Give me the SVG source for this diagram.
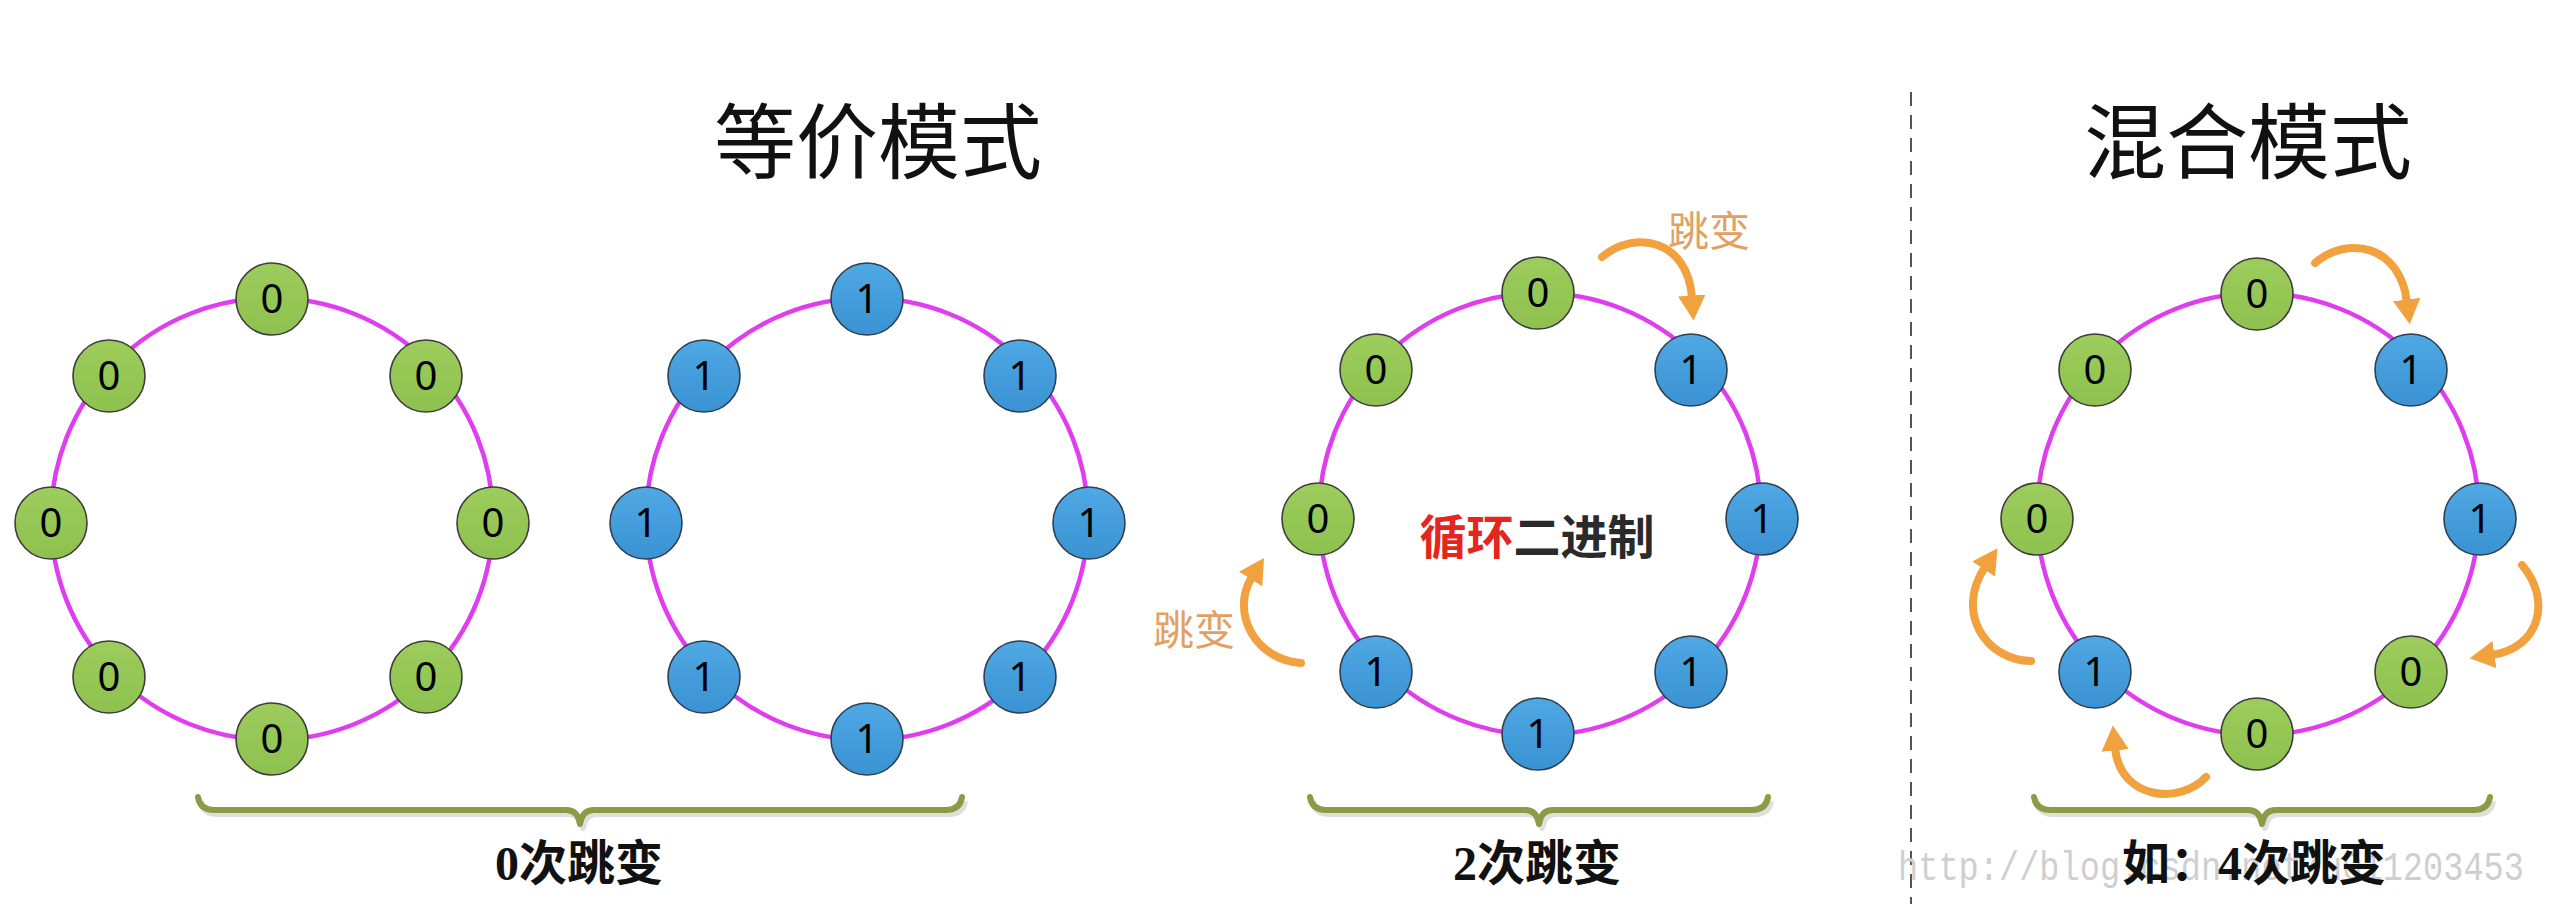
<svg xmlns="http://www.w3.org/2000/svg" width="2550" height="904" viewBox="0 0 2550 904">
<style>
.ring{fill:none;stroke:#e03cf0;stroke-width:4.5}
.g{fill:url(#gg);stroke:#3c3c3c;stroke-width:1.6}
.b{fill:url(#bg);stroke:#2f3f4f;stroke-width:1.6}
.num{font-family:"Noto Sans","Liberation Sans",sans-serif;font-size:40px;fill:#000;text-anchor:middle}
.title{font-family:"Liberation Serif","Noto Sans CJK SC",serif;font-size:82px;fill:#111;text-anchor:middle}
.lab{font-family:"Liberation Serif","Noto Sans CJK SC",serif;font-size:48px;font-weight:700;fill:#111;text-anchor:middle}
.jump{font-family:"Noto Sans CJK SC",sans-serif;font-size:41px;fill:#e4a062;text-anchor:middle}
.arr{fill:none;stroke:#f1a23f;stroke-width:8;stroke-linecap:round;marker-end:url(#ah)}
.brace{fill:none;stroke:#8b9b46;stroke-width:6;stroke-linejoin:round;stroke-linecap:round}
.bsh{fill:none;stroke:#b8b8b8;stroke-width:6;opacity:.45;stroke-linejoin:round}
</style>
<defs>
<linearGradient id="gg" x1="0" y1="0" x2="0" y2="1"><stop offset="0" stop-color="#9dcd5c"/><stop offset="1" stop-color="#8ec14f"/></linearGradient>
<linearGradient id="bg" x1="0" y1="0" x2="0" y2="1"><stop offset="0" stop-color="#4fa9e4"/><stop offset="1" stop-color="#3a92d2"/></linearGradient>
<marker id="ah" markerUnits="userSpaceOnUse" markerWidth="30" markerHeight="30" refX="2" refY="12" orient="auto" viewBox="0 0 24 24"><path d="M0,1 L20,12 L0,23 Z" fill="#f1a23f"/></marker>
</defs>
<rect width="2550" height="904" fill="#ffffff"/>

<text class="title" x="878" y="172">等价模式</text>
<text class="title" x="2248" y="172">混合模式</text>
<line x1="1911" y1="92" x2="1911" y2="904" stroke="#555" stroke-width="2" stroke-dasharray="14 9"/>

<g id="connectors">
<circle class="ring" cx="272" cy="519" r="221"/>
<circle class="ring" cx="867" cy="519" r="221"/>
<circle class="ring" cx="1540" cy="514" r="221"/>
<circle class="ring" cx="2258" cy="514" r="221"/>
<path class="arr" d="M1602,257 C1636,229 1688,240 1692,298"/>
<path class="arr" d="M1301,663 C1255,660 1230,612 1252,577"/>
<path class="arr" d="M2315,263 C2348,235 2400,245 2407,302"/>
<path class="arr" d="M2522,565 C2552,600 2540,648 2492,655"/>
<path class="arr" d="M2206,777 C2180,805 2120,800 2115,748"/>
<path class="arr" d="M2031,661 C1985,660 1955,612 1985,567"/>
</g>

<g id="ring1">
<g id="r1n1"><circle class="g" cx="272" cy="299" r="36"/><text class="num" x="272" y="313">0</text></g>
<g id="r1n2"><circle class="g" cx="426" cy="376" r="36"/><text class="num" x="426" y="390">0</text></g>
<g id="r1n3"><circle class="g" cx="493" cy="523" r="36"/><text class="num" x="493" y="537">0</text></g>
<g id="r1n4"><circle class="g" cx="426" cy="677" r="36"/><text class="num" x="426" y="691">0</text></g>
<g id="r1n5"><circle class="g" cx="272" cy="739" r="36"/><text class="num" x="272" y="753">0</text></g>
<g id="r1n6"><circle class="g" cx="109" cy="677" r="36"/><text class="num" x="109" y="691">0</text></g>
<g id="r1n7"><circle class="g" cx="51" cy="523" r="36"/><text class="num" x="51" y="537">0</text></g>
<g id="r1n8"><circle class="g" cx="109" cy="376" r="36"/><text class="num" x="109" y="390">0</text></g>
</g>

<g id="ring2">
<g id="r2n1"><circle class="b" cx="867" cy="299" r="36"/><text class="num" x="867" y="313">1</text></g>
<g id="r2n2"><circle class="b" cx="1020" cy="376" r="36"/><text class="num" x="1020" y="390">1</text></g>
<g id="r2n3"><circle class="b" cx="1089" cy="523" r="36"/><text class="num" x="1089" y="537">1</text></g>
<g id="r2n4"><circle class="b" cx="1020" cy="677" r="36"/><text class="num" x="1020" y="691">1</text></g>
<g id="r2n5"><circle class="b" cx="867" cy="739" r="36"/><text class="num" x="867" y="753">1</text></g>
<g id="r2n6"><circle class="b" cx="704" cy="677" r="36"/><text class="num" x="704" y="691">1</text></g>
<g id="r2n7"><circle class="b" cx="646" cy="523" r="36"/><text class="num" x="646" y="537">1</text></g>
<g id="r2n8"><circle class="b" cx="704" cy="376" r="36"/><text class="num" x="704" y="390">1</text></g>
</g>

<g id="ring3">
<g id="r3n1"><circle class="g" cx="1538" cy="293" r="36"/><text class="num" x="1538" y="307">0</text></g>
<g id="r3n2"><circle class="b" cx="1691" cy="370" r="36"/><text class="num" x="1691" y="384">1</text></g>
<g id="r3n3"><circle class="b" cx="1762" cy="519" r="36"/><text class="num" x="1762" y="533">1</text></g>
<g id="r3n4"><circle class="b" cx="1691" cy="672" r="36"/><text class="num" x="1691" y="686">1</text></g>
<g id="r3n5"><circle class="b" cx="1538" cy="734" r="36"/><text class="num" x="1538" y="748">1</text></g>
<g id="r3n6"><circle class="b" cx="1376" cy="672" r="36"/><text class="num" x="1376" y="686">1</text></g>
<g id="r3n7"><circle class="g" cx="1318" cy="519" r="36"/><text class="num" x="1318" y="533">0</text></g>
<g id="r3n8"><circle class="g" cx="1376" cy="370" r="36"/><text class="num" x="1376" y="384">0</text></g>
</g>

<g id="ring4">
<g id="r4n1"><circle class="g" cx="2257" cy="294" r="36"/><text class="num" x="2257" y="308">0</text></g>
<g id="r4n2"><circle class="b" cx="2411" cy="370" r="36"/><text class="num" x="2411" y="384">1</text></g>
<g id="r4n3"><circle class="b" cx="2480" cy="519" r="36"/><text class="num" x="2480" y="533">1</text></g>
<g id="r4n4"><circle class="g" cx="2411" cy="672" r="36"/><text class="num" x="2411" y="686">0</text></g>
<g id="r4n5"><circle class="g" cx="2257" cy="734" r="36"/><text class="num" x="2257" y="748">0</text></g>
<g id="r4n6"><circle class="b" cx="2095" cy="672" r="36"/><text class="num" x="2095" y="686">1</text></g>
<g id="r4n7"><circle class="g" cx="2037" cy="519" r="36"/><text class="num" x="2037" y="533">0</text></g>
<g id="r4n8"><circle class="g" cx="2095" cy="370" r="36"/><text class="num" x="2095" y="384">0</text></g>
</g>

<text x="1537" y="554" font-family="Liberation Serif,'Noto Sans CJK SC',serif" font-size="47" font-weight="700" text-anchor="middle"><tspan fill="#e3261e">循环</tspan><tspan fill="#2a2a2a">二进制</tspan></text>
<text class="jump" x="1709" y="246">跳变</text>
<text class="jump" x="1194" y="645">跳变</text>

<g id="braces">
<path class="bsh" transform="translate(3,4)" d="M198,797 Q200,810 214,810 L566,810 Q578,810 580,824 Q582,810 594,810 L946,810 Q960,810 962,797"/>
<path class="brace" d="M198,797 Q200,810 214,810 L566,810 Q578,810 580,824 Q582,810 594,810 L946,810 Q960,810 962,797"/>
<path class="bsh" transform="translate(3,4)" d="M1310,797 Q1312,810 1326,810 L1525,810 Q1537,810 1539,824 Q1541,810 1553,810 L1752,810 Q1766,810 1768,797"/>
<path class="brace" d="M1310,797 Q1312,810 1326,810 L1525,810 Q1537,810 1539,824 Q1541,810 1553,810 L1752,810 Q1766,810 1768,797"/>
<path class="bsh" transform="translate(3,4)" d="M2034,797 Q2036,810 2050,810 L2248,810 Q2260,810 2262,824 Q2264,810 2276,810 L2474,810 Q2488,810 2490,797"/>
<path class="brace" d="M2034,797 Q2036,810 2050,810 L2248,810 Q2260,810 2262,824 Q2264,810 2276,810 L2474,810 Q2488,810 2490,797"/>
</g>

<text x="1898" y="880" font-family="Liberation Mono,monospace" font-size="40" fill="#cfcfcf" textLength="626" lengthAdjust="spacingAndGlyphs">http://blog.csdn.net/u011203453</text>
<text class="lab" x="579" y="880">0次跳变</text>
<text class="lab" x="1537" y="880">2次跳变</text>
<text class="lab" x="2254" y="880">如：4次跳变</text>
</svg>
